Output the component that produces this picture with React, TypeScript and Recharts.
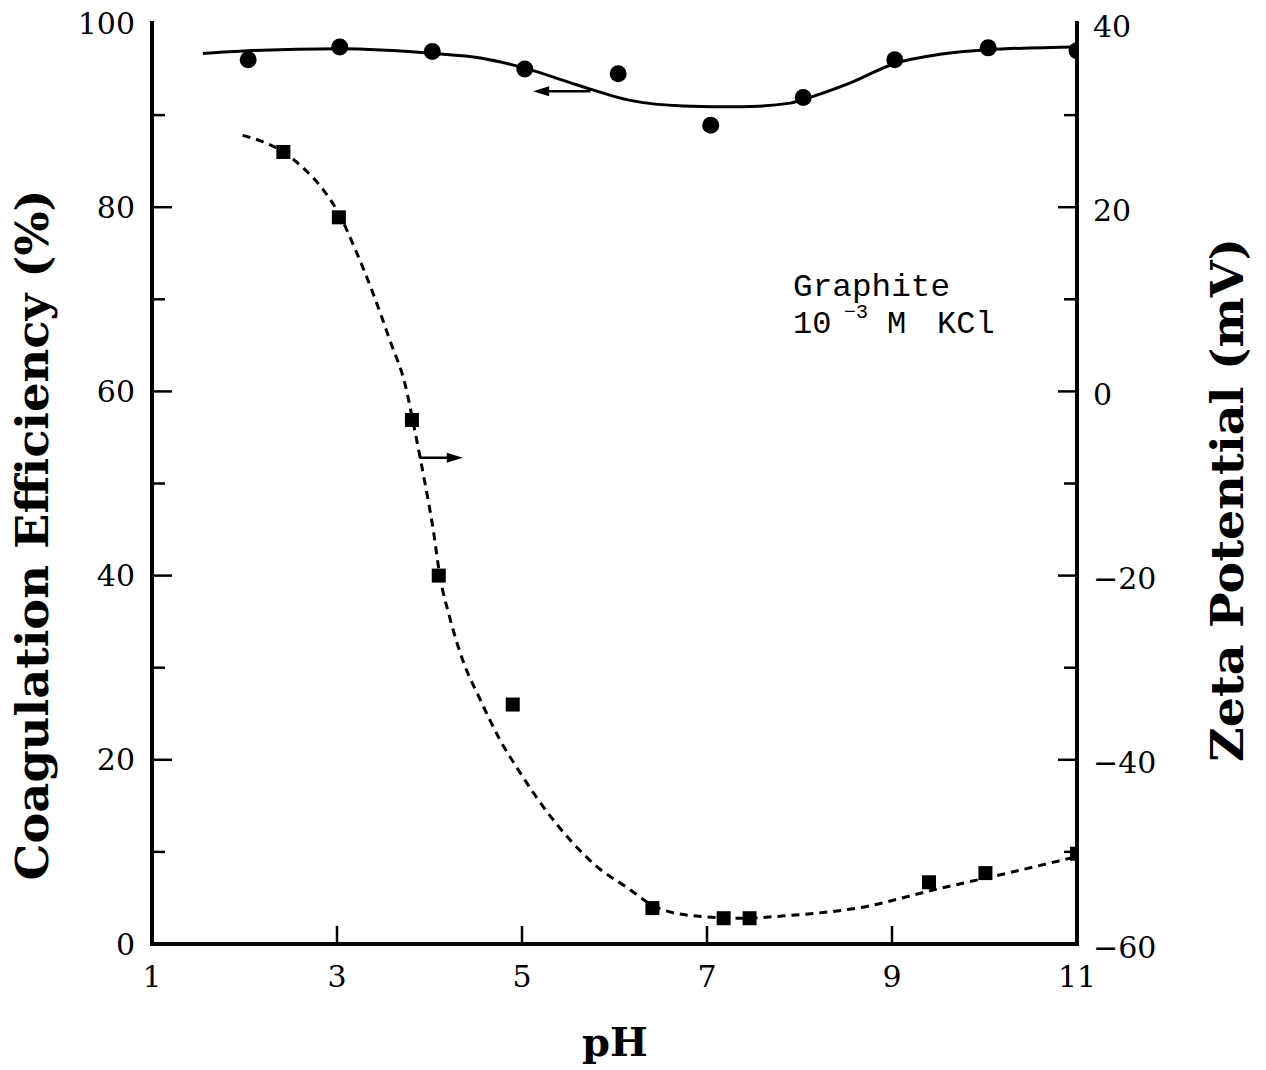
import { ComposedChart, Line, Scatter, XAxis, YAxis, ReferenceLine } from "recharts"

// measured points: coagulation efficiency (left axis, %)
const circlePh = [2.04, 3.03, 4.03, 5.03, 6.04, 7.04, 8.04, 9.03, 10.04, 11.0]
const efficiency = [96.0, 97.4, 96.9, 95.0, 94.5, 88.9, 91.9, 96.0, 97.3, 97.0]

// measured points: zeta potential (right axis, mV)
const squarePh = [2.42, 3.02, 3.81, 4.1, 4.9, 6.41, 7.18, 7.46, 9.4, 10.01, 11.0]
const zeta = [26.0, 18.9, -3.1, -20.0, -34.0, -56.1, -57.2, -57.2, -53.3, -52.3, -50.2]

// hand drawn fit curves
const effFitPh = [1.55, 2.04, 3.03, 4.03, 4.55, 5.03, 5.59, 6.17, 6.74, 7.36, 7.9, 8.04, 8.55, 9.03, 9.52, 10.04, 11.0]
const effFit = [96.7, 97.0, 97.2, 96.7, 96.2, 95.1, 93.3, 91.6, 91.0, 90.9, 91.3, 91.7, 93.5, 95.6, 96.6, 97.1, 97.4]

const zetaFitPh = [1.98, 2.2, 2.42, 2.63, 2.85, 3.02, 3.19, 3.38, 3.57, 3.74, 3.84, 3.95, 4.04, 4.11, 4.22, 4.36, 4.55, 4.76, 4.98, 5.23, 5.52, 5.81, 6.14, 6.41, 6.82, 7.36, 7.89, 8.68, 9.46, 10.25, 11.0]
const zetaFit = [27.8, 27.1, 26.0, 24.3, 21.9, 19.3, 15.6, 10.9, 5.6, 0.6, -4.2, -9.9, -15.0, -19.9, -24.6, -29.2, -33.5, -37.8, -41.4, -45.1, -48.7, -51.6, -53.9, -55.8, -56.9, -57.2, -56.9, -56.0, -54.1, -52.3, -50.5]

const phTicks = [1, 3, 5, 7, 9, 11]
const effTicks = [0, 10, 20, 30, 40, 50, 60, 70, 80, 90, 100]
const zetaTicks = [-60, -50, -40, -30, -20, -10, 0, 10, 20, 30, 40]

// arrows pointing to the axis each curve belongs to
const effArrow = [{ x: 5.74, y: 92.6 }, { x: 5.12, y: 92.6 }]
const zetaArrow = [{ x: 3.89, y: -7.2 }, { x: 4.36, y: -7.2 }]

const toRows = (xs: number[], ys: number[]) => xs.map((x, i) => ({ x, y: ys[i] }))

const tickFont = { fontFamily: "DejaVu Serif", fontSize: 30, fill: "#000" }

const BottomTick = (p: any) => {
  const v = p.payload.value
  return (
    <g>
      {v !== 1 && v !== 11 && <line x1={p.x} y1={p.y} x2={p.x} y2={p.y - 18} stroke="#000" strokeWidth={2.5} />}
      <text x={p.x} y={p.y + 32} textAnchor="middle" dominantBaseline="central" {...tickFont}>
        {v}
      </text>
    </g>
  )
}

const TopTick = (p: any) => (
  <line x1={p.x} y1={p.y} x2={p.x} y2={p.y + 11} stroke="#000" strokeWidth={2.5} />
)

const LeftTick = (p: any) => {
  const v = p.payload.value
  const major = v % 20 === 0
  return (
    <g>
      {v !== 0 && v !== 100 && (
        <line x1={p.x} y1={p.y} x2={p.x + (major ? 20 : 13)} y2={p.y} stroke="#000" strokeWidth={2.5} />
      )}
      {major && (
        <text x={p.x - 17} y={p.y} textAnchor="end" dominantBaseline="central" {...tickFont}>
          {v}
        </text>
      )}
    </g>
  )
}

const RightTick = (p: any) => {
  const v = p.payload.value
  const major = v % 20 === 0
  return (
    <g>
      {v !== -60 && v !== 40 && (
        <line x1={p.x} y1={p.y} x2={p.x - (major ? 19 : 13)} y2={p.y} stroke="#000" strokeWidth={2.5} />
      )}
      {major && (
        <text x={p.x + 16} y={p.y + 3} textAnchor="start" dominantBaseline="central" {...tickFont}>
          {v < 0 ? `\u2212${Math.abs(v)}` : v}
        </text>
      )}
    </g>
  )
}

const Dot = (p: any) => <circle cx={p.cx} cy={p.cy} r={8.5} fill="#000" />
const Square = (p: any) => <rect x={p.cx - 7} y={p.cy - 7} width={14} height={14} fill="#000" />

const Arrow = (p: any) => {
  const { x1, y1, x2, y2 } = p
  const dir = Math.sign(x2 - x1)
  return (
    <g>
      <line x1={x1} y1={y1} x2={x2 - dir * 10} y2={y2} stroke="#000" strokeWidth={2.5} />
      <polygon points={`${x2},${y2} ${x2 - dir * 16},${y2 - 5} ${x2 - dir * 16},${y2 + 5}`} fill="#000" />
    </g>
  )
}

const axisLine = { stroke: "#000", strokeWidth: 4, strokeLinecap: "square" as const }

export default function App() {
  return (
    <div style={{ position: "relative", width: 1250, height: 1070, marginTop: -8, background: "#fff" }}>
      <ComposedChart
        width={1250}
        height={1070}
        margin={{ top: 23, right: 101, bottom: 66, left: 64 }}
        style={{ overflow: "visible" }}
      >
        <XAxis
          xAxisId="b"
          dataKey="x"
          type="number"
          domain={[1, 11]}
          ticks={phTicks}
          allowDataOverflow
          height={60}
          axisLine={axisLine}
          tickLine={false}
          tickSize={0}
          tickMargin={0}
          tick={BottomTick}
        />
        <XAxis
          xAxisId="t"
          dataKey="x"
          type="number"
          orientation="top"
          domain={[1, 11]}
          ticks={[3, 5, 7, 9]}
          allowDataOverflow
          height={0}
          axisLine={axisLine}
          tickLine={false}
          tickSize={0}
          tickMargin={0}
          tick={TopTick}
        />
        <YAxis
          yAxisId="left"
          type="number"
          domain={[0, 100]}
          ticks={effTicks}
          width={80}
          axisLine={axisLine}
          tickLine={false}
          tickSize={0}
          tickMargin={0}
          tick={LeftTick}
        />
        <YAxis
          yAxisId="right"
          orientation="right"
          type="number"
          domain={[-60, 40]}
          ticks={zetaTicks}
          width={80}
          axisLine={axisLine}
          tickLine={false}
          tickSize={0}
          tickMargin={0}
          tick={RightTick}
        />

        <Line
          xAxisId="b"
          yAxisId="left"
          data={toRows(effFitPh, effFit)}
          dataKey="y"
          type="monotone"
          stroke="#000"
          strokeWidth={3}
          dot={false}
          activeDot={false}
          isAnimationActive={false}
        />
        <Line
          xAxisId="b"
          yAxisId="right"
          data={toRows(zetaFitPh, zetaFit)}
          dataKey="y"
          type="monotone"
          stroke="#000"
          strokeWidth={3}
          strokeDasharray="8 6"
          dot={false}
          activeDot={false}
          isAnimationActive={false}
        />
        <Scatter
          xAxisId="b"
          yAxisId="left"
          data={toRows(circlePh, efficiency)}
          dataKey="y"
          shape={Dot}
          isAnimationActive={false}
        />
        <Scatter
          xAxisId="b"
          yAxisId="right"
          data={toRows(squarePh, zeta)}
          dataKey="y"
          shape={Square}
          isAnimationActive={false}
        />

        <ReferenceLine xAxisId="b" yAxisId="left" segment={effArrow} shape={Arrow} />
        <ReferenceLine xAxisId="b" yAxisId="right" segment={zetaArrow} shape={Arrow} />
      </ComposedChart>

      {/* axis titles and the note */}
      <svg
        width={1250}
        height={1070}
        style={{ position: "absolute", left: 0, top: 0, pointerEvents: "none" }}
      >
        <text
          transform="translate(40,535) rotate(-90)"
          textAnchor="middle"
          fontFamily="DejaVu Serif"
          fontWeight="bold"
          fontSize={44}
          textLength={691}
          lengthAdjust="spacingAndGlyphs"
        >
          Coagulation Efficiency (%)
        </text>
        <text
          transform="translate(1235,500) rotate(-90)"
          textAnchor="middle"
          fontFamily="DejaVu Serif"
          fontWeight="bold"
          fontSize={44}
          textLength={524}
          lengthAdjust="spacingAndGlyphs"
        >
          Zeta Potential (mV)
        </text>
        <text x={607} y={1056} textAnchor="middle" fontFamily="DejaVu Serif" fontWeight="bold" fontSize={40}>
          pH
        </text>

        <g fontFamily="Liberation Mono" fontSize={32} fill="#000">
          <text x={785} y={296} textLength={157} lengthAdjust="spacingAndGlyphs">
            Graphite
          </text>
          <text x={785} y={333}>10</text>
          <text x={836} y={318} fontSize={20}>
            {"\u22123"}
          </text>
          <text x={879} y={333}>M</text>
          <text x={929} y={333}>KCl</text>
        </g>
      </svg>
    </div>
  )
}
